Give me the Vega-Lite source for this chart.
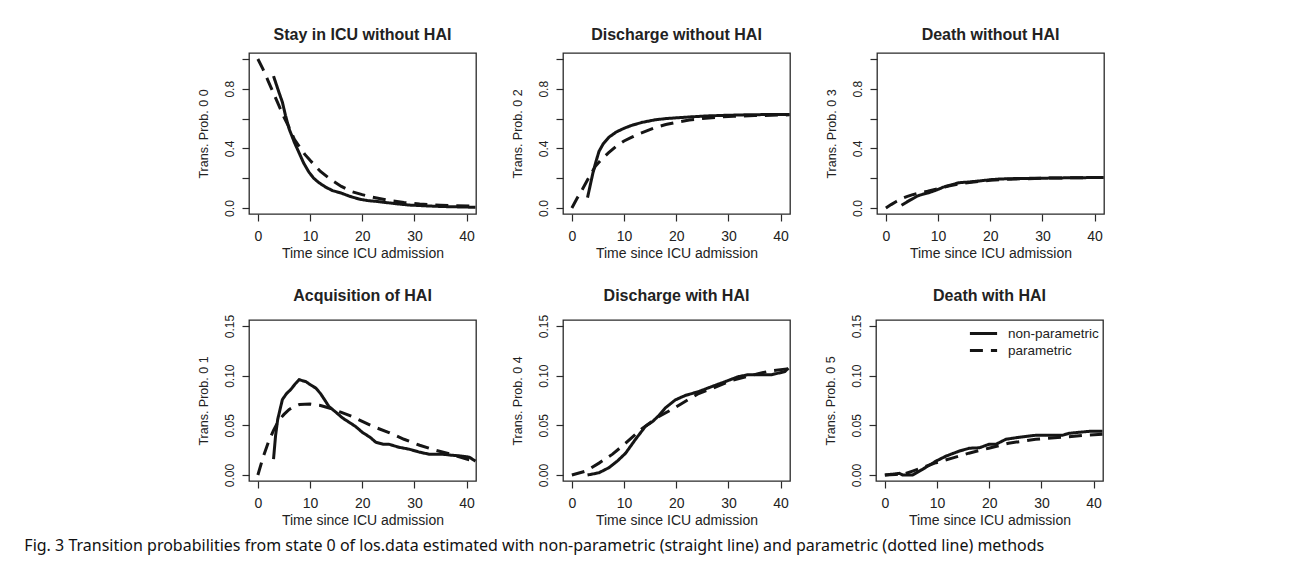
{
  "$schema": "https://vega.github.io/schema/vega-lite/v6.json",
  "padding": {"left": 24, "top": 26, "right": 5, "bottom": 5},
  "background": "white",
  "config": {
    "font": "Liberation Sans",
    "view": {"stroke": "#2a2a2a", "strokeWidth": 1.3},
    "axis": {"domain": false, "grid": false, "tickColor": "#2a2a2a", "tickSize": 7, "tickWidth": 1.2, "labelColor": "#222", "titleColor": "#222", "labelFont": "Liberation Sans", "titleFont": "Liberation Sans", "titleFontWeight": "normal"},
    "axisX": {"labelFontSize": 14, "titleFontSize": 14, "labelPadding": 8, "titlePadding": 3},
    "axisY": {"labelFontSize": 12, "titleFontSize": 12.5, "labelAngle": -90, "labelAlign": "center", "labelBaseline": "bottom", "labelPadding": 6, "titlePadding": 13},
    "title": {"font": "Liberation Sans", "fontSize": 16, "fontWeight": "bold", "color": "#222", "offset": 10},
    "line": {"strokeWidth": 3, "color": "#151515", "clip": true},
    "legend": {"labelFont": "Liberation Sans", "labelFontSize": 13.5, "labelColor": "#222", "symbolType": "M-1.7,0H1.7", "symbolStrokeWidth": 3, "symbolSize": 256, "symbolStrokeColor": "#151515", "symbolFillColor": "transparent", "labelOffset": 15, "padding": 0, "rowPadding": 1}
  },
  "title": {"text": "Fig. 3 Transition probabilities from state 0 of los.data estimated with non-parametric (straight line) and parametric (dotted line) methods", "orient": "bottom", "anchor": "start", "font": "Noto Sans", "fontSize": 16, "fontWeight": "normal", "color": "#111", "offset": 10, "dx": -172},
  "resolve": {"legend": {"strokeDash": "independent"}},
  "data": {"values": [
    {"panel":"p00","method":"non-parametric","t":3,"p":0.885},
    {"panel":"p00","method":"non-parametric","t":4,"p":0.78},
    {"panel":"p00","method":"non-parametric","t":4.7,"p":0.71},
    {"panel":"p00","method":"non-parametric","t":5.3,"p":0.62},
    {"panel":"p00","method":"non-parametric","t":6,"p":0.53},
    {"panel":"p00","method":"non-parametric","t":7,"p":0.44},
    {"panel":"p00","method":"non-parametric","t":7.9,"p":0.37},
    {"panel":"p00","method":"non-parametric","t":8.8,"p":0.3},
    {"panel":"p00","method":"non-parametric","t":9.8,"p":0.24},
    {"panel":"p00","method":"non-parametric","t":10.7,"p":0.2},
    {"panel":"p00","method":"non-parametric","t":11.7,"p":0.17},
    {"panel":"p00","method":"non-parametric","t":13,"p":0.14},
    {"panel":"p00","method":"non-parametric","t":14.3,"p":0.117},
    {"panel":"p00","method":"non-parametric","t":16,"p":0.1},
    {"panel":"p00","method":"non-parametric","t":17.5,"p":0.08},
    {"panel":"p00","method":"non-parametric","t":19.4,"p":0.06},
    {"panel":"p00","method":"non-parametric","t":21,"p":0.05},
    {"panel":"p00","method":"non-parametric","t":22.6,"p":0.045},
    {"panel":"p00","method":"non-parametric","t":25,"p":0.035},
    {"panel":"p00","method":"non-parametric","t":27,"p":0.027},
    {"panel":"p00","method":"non-parametric","t":29,"p":0.02},
    {"panel":"p00","method":"non-parametric","t":32,"p":0.015},
    {"panel":"p00","method":"non-parametric","t":35.3,"p":0.01},
    {"panel":"p00","method":"non-parametric","t":38,"p":0.008},
    {"panel":"p00","method":"non-parametric","t":41.7,"p":0.005},
    {"panel":"p00","method":"parametric","t":0,"p":1.0},
    {"panel":"p00","method":"parametric","t":1,"p":0.93},
    {"panel":"p00","method":"parametric","t":2,"p":0.85},
    {"panel":"p00","method":"parametric","t":3,"p":0.77},
    {"panel":"p00","method":"parametric","t":4,"p":0.69},
    {"panel":"p00","method":"parametric","t":5,"p":0.61},
    {"panel":"p00","method":"parametric","t":6,"p":0.54},
    {"panel":"p00","method":"parametric","t":7,"p":0.46},
    {"panel":"p00","method":"parametric","t":8,"p":0.41},
    {"panel":"p00","method":"parametric","t":9,"p":0.36},
    {"panel":"p00","method":"parametric","t":10,"p":0.32},
    {"panel":"p00","method":"parametric","t":12,"p":0.245},
    {"panel":"p00","method":"parametric","t":14,"p":0.19},
    {"panel":"p00","method":"parametric","t":16,"p":0.145},
    {"panel":"p00","method":"parametric","t":18,"p":0.11},
    {"panel":"p00","method":"parametric","t":20,"p":0.09},
    {"panel":"p00","method":"parametric","t":22,"p":0.072},
    {"panel":"p00","method":"parametric","t":25,"p":0.052},
    {"panel":"p00","method":"parametric","t":28,"p":0.037},
    {"panel":"p00","method":"parametric","t":31,"p":0.027},
    {"panel":"p00","method":"parametric","t":35,"p":0.019},
    {"panel":"p00","method":"parametric","t":38,"p":0.015},
    {"panel":"p00","method":"parametric","t":41.7,"p":0.012},
    {"panel":"p02","method":"non-parametric","t":3,"p":0.07},
    {"panel":"p02","method":"non-parametric","t":3.5,"p":0.15},
    {"panel":"p02","method":"non-parametric","t":4,"p":0.23},
    {"panel":"p02","method":"non-parametric","t":4.6,"p":0.31},
    {"panel":"p02","method":"non-parametric","t":5.2,"p":0.38},
    {"panel":"p02","method":"non-parametric","t":6,"p":0.43},
    {"panel":"p02","method":"non-parametric","t":7.1,"p":0.475},
    {"panel":"p02","method":"non-parametric","t":8.5,"p":0.51},
    {"panel":"p02","method":"non-parametric","t":10,"p":0.535},
    {"panel":"p02","method":"non-parametric","t":11.5,"p":0.555},
    {"panel":"p02","method":"non-parametric","t":13.5,"p":0.575},
    {"panel":"p02","method":"non-parametric","t":16,"p":0.592},
    {"panel":"p02","method":"non-parametric","t":18,"p":0.6},
    {"panel":"p02","method":"non-parametric","t":20,"p":0.605},
    {"panel":"p02","method":"non-parametric","t":23,"p":0.612},
    {"panel":"p02","method":"non-parametric","t":26,"p":0.618},
    {"panel":"p02","method":"non-parametric","t":29.4,"p":0.622},
    {"panel":"p02","method":"non-parametric","t":33,"p":0.625},
    {"panel":"p02","method":"non-parametric","t":37,"p":0.627},
    {"panel":"p02","method":"non-parametric","t":41.7,"p":0.628},
    {"panel":"p02","method":"parametric","t":0,"p":0},
    {"panel":"p02","method":"parametric","t":1,"p":0.065},
    {"panel":"p02","method":"parametric","t":2,"p":0.125},
    {"panel":"p02","method":"parametric","t":2.7,"p":0.17},
    {"panel":"p02","method":"parametric","t":3.5,"p":0.22},
    {"panel":"p02","method":"parametric","t":4.5,"p":0.28},
    {"panel":"p02","method":"parametric","t":5.5,"p":0.32},
    {"panel":"p02","method":"parametric","t":7,"p":0.37},
    {"panel":"p02","method":"parametric","t":8.5,"p":0.415},
    {"panel":"p02","method":"parametric","t":10,"p":0.45},
    {"panel":"p02","method":"parametric","t":11.5,"p":0.475},
    {"panel":"p02","method":"parametric","t":13,"p":0.5},
    {"panel":"p02","method":"parametric","t":16,"p":0.54},
    {"panel":"p02","method":"parametric","t":18,"p":0.56},
    {"panel":"p02","method":"parametric","t":20,"p":0.575},
    {"panel":"p02","method":"parametric","t":22.5,"p":0.59},
    {"panel":"p02","method":"parametric","t":25,"p":0.6},
    {"panel":"p02","method":"parametric","t":28,"p":0.61},
    {"panel":"p02","method":"parametric","t":31,"p":0.615},
    {"panel":"p02","method":"parametric","t":35,"p":0.62},
    {"panel":"p02","method":"parametric","t":41.7,"p":0.625},
    {"panel":"p03","method":"non-parametric","t":3,"p":0.018},
    {"panel":"p03","method":"non-parametric","t":4,"p":0.04},
    {"panel":"p03","method":"non-parametric","t":5,"p":0.06},
    {"panel":"p03","method":"non-parametric","t":6,"p":0.08},
    {"panel":"p03","method":"non-parametric","t":7,"p":0.092},
    {"panel":"p03","method":"non-parametric","t":8,"p":0.1},
    {"panel":"p03","method":"non-parametric","t":9,"p":0.112},
    {"panel":"p03","method":"non-parametric","t":10,"p":0.125},
    {"panel":"p03","method":"non-parametric","t":11,"p":0.14},
    {"panel":"p03","method":"non-parametric","t":12,"p":0.15},
    {"panel":"p03","method":"non-parametric","t":13,"p":0.16},
    {"panel":"p03","method":"non-parametric","t":14,"p":0.17},
    {"panel":"p03","method":"non-parametric","t":16,"p":0.175},
    {"panel":"p03","method":"non-parametric","t":18,"p":0.182},
    {"panel":"p03","method":"non-parametric","t":20,"p":0.19},
    {"panel":"p03","method":"non-parametric","t":22,"p":0.195},
    {"panel":"p03","method":"non-parametric","t":25,"p":0.198},
    {"panel":"p03","method":"non-parametric","t":30,"p":0.2},
    {"panel":"p03","method":"non-parametric","t":35,"p":0.203},
    {"panel":"p03","method":"non-parametric","t":41.7,"p":0.205},
    {"panel":"p03","method":"parametric","t":0,"p":0},
    {"panel":"p03","method":"parametric","t":1,"p":0.023},
    {"panel":"p03","method":"parametric","t":2,"p":0.044},
    {"panel":"p03","method":"parametric","t":3,"p":0.063},
    {"panel":"p03","method":"parametric","t":4,"p":0.077},
    {"panel":"p03","method":"parametric","t":5,"p":0.088},
    {"panel":"p03","method":"parametric","t":6,"p":0.097},
    {"panel":"p03","method":"parametric","t":7,"p":0.106},
    {"panel":"p03","method":"parametric","t":8,"p":0.113},
    {"panel":"p03","method":"parametric","t":10,"p":0.13},
    {"panel":"p03","method":"parametric","t":12,"p":0.148},
    {"panel":"p03","method":"parametric","t":14,"p":0.162},
    {"panel":"p03","method":"parametric","t":16,"p":0.172},
    {"panel":"p03","method":"parametric","t":18,"p":0.18},
    {"panel":"p03","method":"parametric","t":20,"p":0.186},
    {"panel":"p03","method":"parametric","t":23,"p":0.192},
    {"panel":"p03","method":"parametric","t":26,"p":0.196},
    {"panel":"p03","method":"parametric","t":30,"p":0.2},
    {"panel":"p03","method":"parametric","t":35,"p":0.203},
    {"panel":"p03","method":"parametric","t":41.7,"p":0.205},
    {"panel":"p01","method":"non-parametric","t":3,"p":0.016},
    {"panel":"p01","method":"non-parametric","t":3.4,"p":0.04},
    {"panel":"p01","method":"non-parametric","t":3.8,"p":0.056},
    {"panel":"p01","method":"non-parametric","t":4.7,"p":0.076},
    {"panel":"p01","method":"non-parametric","t":5.5,"p":0.082},
    {"panel":"p01","method":"non-parametric","t":6.3,"p":0.086},
    {"panel":"p01","method":"non-parametric","t":7.2,"p":0.092},
    {"panel":"p01","method":"non-parametric","t":7.9,"p":0.096},
    {"panel":"p01","method":"non-parametric","t":8.5,"p":0.095},
    {"panel":"p01","method":"non-parametric","t":9.2,"p":0.094},
    {"panel":"p01","method":"non-parametric","t":10,"p":0.091},
    {"panel":"p01","method":"non-parametric","t":11.1,"p":0.0875},
    {"panel":"p01","method":"non-parametric","t":12,"p":0.082},
    {"panel":"p01","method":"non-parametric","t":13,"p":0.074},
    {"panel":"p01","method":"non-parametric","t":13.6,"p":0.069},
    {"panel":"p01","method":"non-parametric","t":15,"p":0.063},
    {"panel":"p01","method":"non-parametric","t":16.2,"p":0.0575},
    {"panel":"p01","method":"non-parametric","t":17.5,"p":0.053},
    {"panel":"p01","method":"non-parametric","t":18.7,"p":0.049},
    {"panel":"p01","method":"non-parametric","t":20,"p":0.043},
    {"panel":"p01","method":"non-parametric","t":21.5,"p":0.038},
    {"panel":"p01","method":"non-parametric","t":22.6,"p":0.033},
    {"panel":"p01","method":"non-parametric","t":24,"p":0.031},
    {"panel":"p01","method":"non-parametric","t":25.1,"p":0.031},
    {"panel":"p01","method":"non-parametric","t":27,"p":0.028},
    {"panel":"p01","method":"non-parametric","t":29,"p":0.026},
    {"panel":"p01","method":"non-parametric","t":31,"p":0.023},
    {"panel":"p01","method":"non-parametric","t":32.8,"p":0.021},
    {"panel":"p01","method":"non-parametric","t":35.3,"p":0.021},
    {"panel":"p01","method":"non-parametric","t":37,"p":0.02},
    {"panel":"p01","method":"non-parametric","t":39.2,"p":0.019},
    {"panel":"p01","method":"non-parametric","t":40.5,"p":0.018},
    {"panel":"p01","method":"non-parametric","t":41.7,"p":0.014},
    {"panel":"p01","method":"parametric","t":0,"p":0},
    {"panel":"p01","method":"parametric","t":1,"p":0.018},
    {"panel":"p01","method":"parametric","t":2,"p":0.033},
    {"panel":"p01","method":"parametric","t":3,"p":0.045},
    {"panel":"p01","method":"parametric","t":4,"p":0.055},
    {"panel":"p01","method":"parametric","t":5,"p":0.061},
    {"panel":"p01","method":"parametric","t":6,"p":0.066},
    {"panel":"p01","method":"parametric","t":7,"p":0.069},
    {"panel":"p01","method":"parametric","t":8,"p":0.071},
    {"panel":"p01","method":"parametric","t":10,"p":0.0715},
    {"panel":"p01","method":"parametric","t":12,"p":0.07},
    {"panel":"p01","method":"parametric","t":14,"p":0.067},
    {"panel":"p01","method":"parametric","t":16,"p":0.063},
    {"panel":"p01","method":"parametric","t":18,"p":0.059},
    {"panel":"p01","method":"parametric","t":20,"p":0.054},
    {"panel":"p01","method":"parametric","t":22,"p":0.049},
    {"panel":"p01","method":"parametric","t":25,"p":0.043},
    {"panel":"p01","method":"parametric","t":28,"p":0.036},
    {"panel":"p01","method":"parametric","t":31,"p":0.03},
    {"panel":"p01","method":"parametric","t":34,"p":0.025},
    {"panel":"p01","method":"parametric","t":37,"p":0.021},
    {"panel":"p01","method":"parametric","t":40,"p":0.016},
    {"panel":"p01","method":"parametric","t":41.7,"p":0.014},
    {"panel":"p04","method":"non-parametric","t":3,"p":0},
    {"panel":"p04","method":"non-parametric","t":5.2,"p":0.0023},
    {"panel":"p04","method":"non-parametric","t":7.1,"p":0.0074},
    {"panel":"p04","method":"non-parametric","t":8.7,"p":0.014},
    {"panel":"p04","method":"non-parametric","t":10.3,"p":0.022},
    {"panel":"p04","method":"non-parametric","t":12.2,"p":0.036},
    {"panel":"p04","method":"non-parametric","t":14.1,"p":0.049},
    {"panel":"p04","method":"non-parametric","t":15.5,"p":0.054},
    {"panel":"p04","method":"non-parametric","t":16.7,"p":0.06},
    {"panel":"p04","method":"non-parametric","t":17.9,"p":0.0675},
    {"panel":"p04","method":"non-parametric","t":19.8,"p":0.0755},
    {"panel":"p04","method":"non-parametric","t":21.7,"p":0.08},
    {"panel":"p04","method":"non-parametric","t":24.3,"p":0.084},
    {"panel":"p04","method":"non-parametric","t":26.8,"p":0.089},
    {"panel":"p04","method":"non-parametric","t":29.4,"p":0.094},
    {"panel":"p04","method":"non-parametric","t":31.9,"p":0.099},
    {"panel":"p04","method":"non-parametric","t":33.8,"p":0.101},
    {"panel":"p04","method":"non-parametric","t":38.3,"p":0.101},
    {"panel":"p04","method":"non-parametric","t":40.8,"p":0.104},
    {"panel":"p04","method":"non-parametric","t":41.5,"p":0.1076},
    {"panel":"p04","method":"parametric","t":0,"p":0},
    {"panel":"p04","method":"parametric","t":2.7,"p":0.004},
    {"panel":"p04","method":"parametric","t":5.2,"p":0.012},
    {"panel":"p04","method":"parametric","t":7.8,"p":0.021},
    {"panel":"p04","method":"parametric","t":10.3,"p":0.032},
    {"panel":"p04","method":"parametric","t":13.5,"p":0.047},
    {"panel":"p04","method":"parametric","t":16.7,"p":0.059},
    {"panel":"p04","method":"parametric","t":19.2,"p":0.066},
    {"panel":"p04","method":"parametric","t":21.7,"p":0.074},
    {"panel":"p04","method":"parametric","t":24.3,"p":0.082},
    {"panel":"p04","method":"parametric","t":26.8,"p":0.087},
    {"panel":"p04","method":"parametric","t":30.6,"p":0.095},
    {"panel":"p04","method":"parametric","t":35.7,"p":0.102},
    {"panel":"p04","method":"parametric","t":38.3,"p":0.105},
    {"panel":"p04","method":"parametric","t":41.5,"p":0.107},
    {"panel":"p05","method":"non-parametric","t":0,"p":0},
    {"panel":"p05","method":"non-parametric","t":2.8,"p":0.0017},
    {"panel":"p05","method":"non-parametric","t":3.4,"p":0},
    {"panel":"p05","method":"non-parametric","t":5.3,"p":0},
    {"panel":"p05","method":"non-parametric","t":7.2,"p":0.0057},
    {"panel":"p05","method":"non-parametric","t":9.8,"p":0.014},
    {"panel":"p05","method":"non-parametric","t":11.7,"p":0.019},
    {"panel":"p05","method":"non-parametric","t":14.2,"p":0.024},
    {"panel":"p05","method":"non-parametric","t":16.2,"p":0.027},
    {"panel":"p05","method":"non-parametric","t":18.1,"p":0.0274},
    {"panel":"p05","method":"non-parametric","t":20,"p":0.031},
    {"panel":"p05","method":"non-parametric","t":21.3,"p":0.031},
    {"panel":"p05","method":"non-parametric","t":23.2,"p":0.036},
    {"panel":"p05","method":"non-parametric","t":25.7,"p":0.038},
    {"panel":"p05","method":"non-parametric","t":28.9,"p":0.04},
    {"panel":"p05","method":"non-parametric","t":34,"p":0.04},
    {"panel":"p05","method":"non-parametric","t":35.3,"p":0.042},
    {"panel":"p05","method":"non-parametric","t":39.2,"p":0.044},
    {"panel":"p05","method":"non-parametric","t":41.7,"p":0.044},
    {"panel":"p05","method":"parametric","t":0,"p":0},
    {"panel":"p05","method":"parametric","t":2,"p":0.0005},
    {"panel":"p05","method":"parametric","t":4,"p":0.0015},
    {"panel":"p05","method":"parametric","t":5.3,"p":0.004},
    {"panel":"p05","method":"parametric","t":7.5,"p":0.008},
    {"panel":"p05","method":"parametric","t":9.8,"p":0.0124},
    {"panel":"p05","method":"parametric","t":12.9,"p":0.017},
    {"panel":"p05","method":"parametric","t":16.1,"p":0.022},
    {"panel":"p05","method":"parametric","t":19.9,"p":0.027},
    {"panel":"p05","method":"parametric","t":23.7,"p":0.032},
    {"panel":"p05","method":"parametric","t":28.9,"p":0.036},
    {"panel":"p05","method":"parametric","t":34,"p":0.038},
    {"panel":"p05","method":"parametric","t":38,"p":0.04},
    {"panel":"p05","method":"parametric","t":41.7,"p":0.041}
  ]},
  "spacing": 26,
  "vconcat": [
    {"resolve": {"legend": {"strokeDash": "independent"}}, "spacing": 27, "hconcat": [
      {"width": 227, "height": 161, "title": "Stay in ICU without HAI",
       "transform": [{"filter": "datum.panel == 'p00'"}],
       "mark": "line",
       "encoding": {
         "x": {"field": "t", "type": "quantitative", "scale": {"domain": [-1.7, 41.8], "nice": false, "zero": false}, "axis": {"values": [0,10,20,30,40], "title": "Time since ICU admission"}},
         "y": {"field": "p", "type": "quantitative", "scale": {"domain": [-0.04, 1.04], "nice": false, "zero": false}, "axis": {"values": [0,0.2,0.4,0.6,0.8,1], "labelExpr": "(datum.value < 0.01 || abs(datum.value-0.4) < 0.01 || abs(datum.value-0.8) < 0.01) ? format(datum.value, '.1f') : ''", "title": "Trans. Prob. 0 0"}},
         "strokeDash": {"field": "method", "type": "nominal", "scale": {"domain": ["non-parametric","parametric"], "range": [[1,0],[13,8]]}, "legend": null}
       }},
      {"width": 227, "height": 161, "title": "Discharge without HAI",
       "transform": [{"filter": "datum.panel == 'p02'"}],
       "mark": "line",
       "encoding": {
         "x": {"field": "t", "type": "quantitative", "scale": {"domain": [-1.7, 41.8], "nice": false, "zero": false}, "axis": {"values": [0,10,20,30,40], "title": "Time since ICU admission"}},
         "y": {"field": "p", "type": "quantitative", "scale": {"domain": [-0.04, 1.04], "nice": false, "zero": false}, "axis": {"values": [0,0.2,0.4,0.6,0.8,1], "labelExpr": "(datum.value < 0.01 || abs(datum.value-0.4) < 0.01 || abs(datum.value-0.8) < 0.01) ? format(datum.value, '.1f') : ''", "title": "Trans. Prob. 0 2"}},
         "strokeDash": {"field": "method", "type": "nominal", "scale": {"domain": ["non-parametric","parametric"], "range": [[1,0],[13,8]]}, "legend": null}
       }},
      {"width": 227, "height": 161, "title": "Death without HAI",
       "transform": [{"filter": "datum.panel == 'p03'"}],
       "mark": "line",
       "encoding": {
         "x": {"field": "t", "type": "quantitative", "scale": {"domain": [-1.7, 41.8], "nice": false, "zero": false}, "axis": {"values": [0,10,20,30,40], "title": "Time since ICU admission"}},
         "y": {"field": "p", "type": "quantitative", "scale": {"domain": [-0.04, 1.04], "nice": false, "zero": false}, "axis": {"values": [0,0.2,0.4,0.6,0.8,1], "labelExpr": "(datum.value < 0.01 || abs(datum.value-0.4) < 0.01 || abs(datum.value-0.8) < 0.01) ? format(datum.value, '.1f') : ''", "title": "Trans. Prob. 0 3"}},
         "strokeDash": {"field": "method", "type": "nominal", "scale": {"domain": ["non-parametric","parametric"], "range": [[1,0],[13,8]]}, "legend": null}
       }}
    ]},
    {"resolve": {"legend": {"strokeDash": "independent"}}, "spacing": 27, "hconcat": [
      {"width": 227, "height": 161, "title": "Acquisition of HAI",
       "transform": [{"filter": "datum.panel == 'p01'"}],
       "mark": "line",
       "encoding": {
         "x": {"field": "t", "type": "quantitative", "scale": {"domain": [-1.7, 41.8], "nice": false, "zero": false}, "axis": {"values": [0,10,20,30,40], "title": "Time since ICU admission"}},
         "y": {"field": "p", "type": "quantitative", "scale": {"domain": [-0.006, 0.156], "nice": false, "zero": false}, "axis": {"values": [0,0.05,0.1,0.15], "format": ".2f", "title": "Trans. Prob. 0 1"}},
         "strokeDash": {"field": "method", "type": "nominal", "scale": {"domain": ["non-parametric","parametric"], "range": [[1,0],[13,8]]}, "legend": null}
       }},
      {"width": 227, "height": 161, "title": "Discharge with HAI",
       "transform": [{"filter": "datum.panel == 'p04'"}],
       "mark": "line",
       "encoding": {
         "x": {"field": "t", "type": "quantitative", "scale": {"domain": [-1.7, 41.8], "nice": false, "zero": false}, "axis": {"values": [0,10,20,30,40], "title": "Time since ICU admission"}},
         "y": {"field": "p", "type": "quantitative", "scale": {"domain": [-0.006, 0.156], "nice": false, "zero": false}, "axis": {"values": [0,0.05,0.1,0.15], "format": ".2f", "title": "Trans. Prob. 0 4"}},
         "strokeDash": {"field": "method", "type": "nominal", "scale": {"domain": ["non-parametric","parametric"], "range": [[1,0],[13,8]]}, "legend": null}
       }},
      {"width": 227, "height": 161, "title": "Death with HAI",
       "transform": [{"filter": "datum.panel == 'p05'"}],
       "mark": "line",
       "encoding": {
         "x": {"field": "t", "type": "quantitative", "scale": {"domain": [-1.7, 41.8], "nice": false, "zero": false}, "axis": {"values": [0,10,20,30,40], "title": "Time since ICU admission"}},
         "y": {"field": "p", "type": "quantitative", "scale": {"domain": [-0.006, 0.156], "nice": false, "zero": false}, "axis": {"values": [0,0.05,0.1,0.15], "format": ".2f", "title": "Trans. Prob. 0 5"}},
         "strokeDash": {"field": "method", "type": "nominal", "scale": {"domain": ["non-parametric","parametric"], "range": [[1,0],[13,8]]}, "legend": {"title": null, "orient": "top-right", "offset": 4}}
       }}
    ]}
  ]
}
